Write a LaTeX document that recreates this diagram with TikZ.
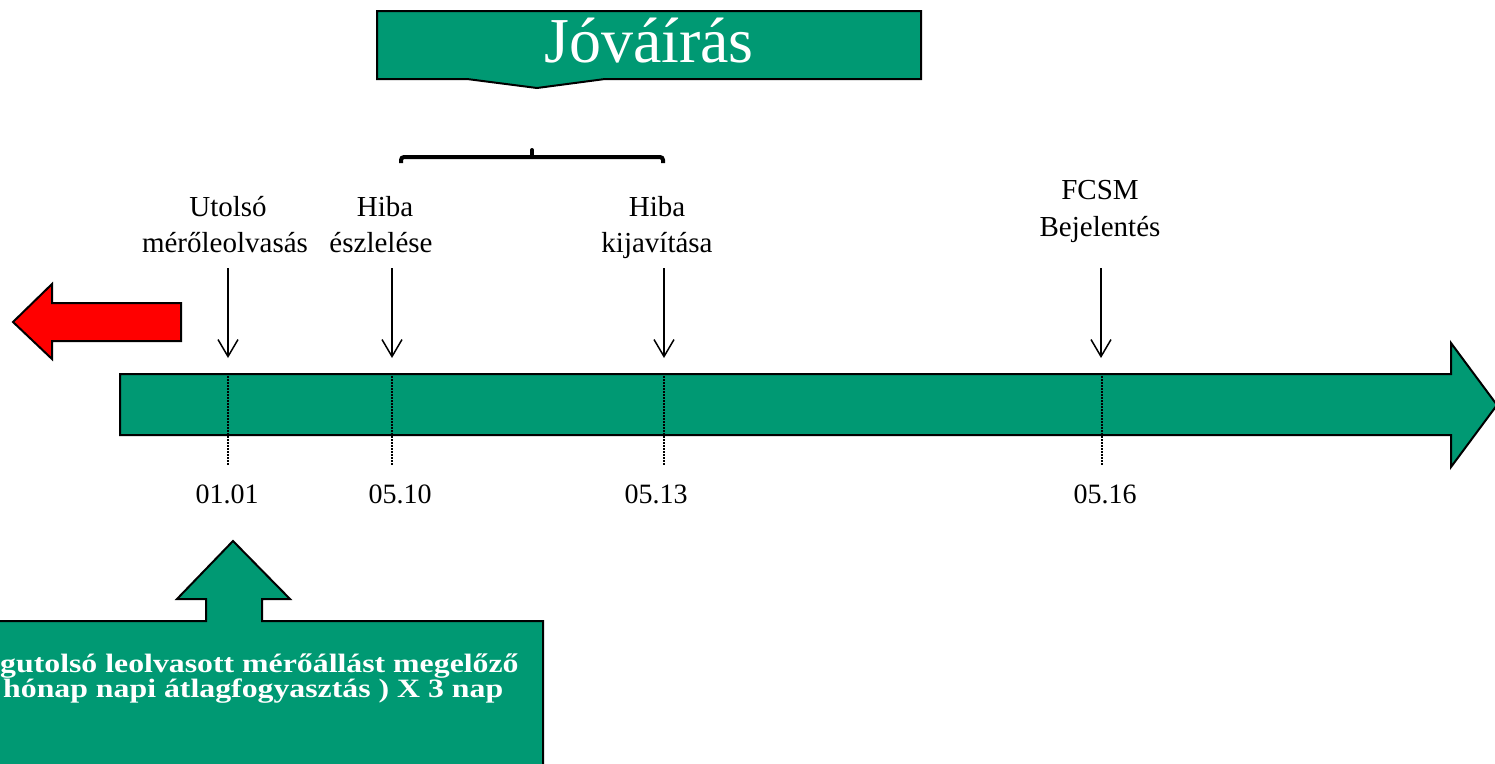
\documentclass[tikz,border=0pt]{standalone}
\usepackage{fontspec}
\setmainfont{Liberation Serif}
\usetikzlibrary{arrows.meta}
\definecolor{grn}{RGB}{0,153,115}
\begin{document}
\begin{tikzpicture}[x=1pt,y=-1pt,
  shp/.style={fill=grn,draw=black,line width=2pt,line join=miter},
  lbl/.style={font=\fontsize{29}{34}\selectfont,inner sep=0pt,anchor=base},
  datelbl/.style={font=\fontsize{28}{32}\selectfont,inner sep=0pt,anchor=base},
  boxtxt/.style={font=\fontsize{26.5}{27}\selectfont\bfseries,text=white,inner sep=0pt,anchor=base west},
  pointer/.style={line width=1.5pt,-{Straight Barb[length=17pt,width=20pt,line width=1.5pt]}},
  tick/.style={line width=1.5pt,dash pattern=on 1.5pt off 1.5pt}
]
\useasboundingbox (0,0) rectangle (1495,763);

% title box
\path[shp] (377,11) -- (921,11) -- (921,79) -- (605,79) -- (537,88) -- (467,79) -- (377,79) -- cycle;
\node[font=\fontsize{64}{70}\selectfont,text=white,inner sep=0pt,anchor=base] (title) at (649,62) {Jóváírás};

% brace
\draw[line width=4pt,rounded corners=3pt] (401,163) -- (401,157) -- (663,157) -- (663,163);
\draw[line width=4pt,line cap=round] (532,157) -- (532,150);

% main timeline arrow
\path[shp] (120,374) -- (1451,374) -- (1451,343) -- (1497,405) -- (1451,467) -- (1451,435) -- (120,435) -- cycle;

% red arrow
\path[shp,fill=red] (181,303) -- (52,303) -- (52,284) -- (13,322) -- (52,359) -- (52,341) -- (181,341) -- cycle;

% bottom box with up arrow
\path[shp] (-5,621) -- (206,621) -- (206,599) -- (177,599) -- (233,541) -- (290,599) -- (262,599) -- (262,621) -- (543,621) -- (543,770) -- (-5,770) -- cycle;
\node[boxtxt] (b1) at (0,672) {\scalebox{1.2}[1]{gutolsó leolvasott mérőállást megelőző}};
\node[boxtxt] (b2) at (3,697) {\scalebox{1.2}[1]{hónap napi átlagfogyasztás ) X 3 nap}};

% labels
\node[lbl] (l1a) at (228,216) {Utolsó};
\node[lbl] (l1b) at (225,252) {mérőleolvasás};
\node[lbl] (l2a) at (385,216) {Hiba};
\node[lbl] (l2b) at (381,252) {észlelése};
\node[lbl] (l3a) at (657,216) {Hiba};
\node[lbl] (l3b) at (657,252) {kijavítása};
\node[lbl] (l4a) at (1100,199) {FCSM};
\node[lbl] (l4b) at (1100,236) {Bejelentés};

% pointer arrows
\coordinate (s1) at (228,268); \coordinate (e1) at (228,358);
\coordinate (s2) at (392,268); \coordinate (e2) at (392,358);
\coordinate (s3) at (664,268); \coordinate (e3) at (664,358);
\coordinate (s4) at (1101,268); \coordinate (e4) at (1101,358);
\draw[pointer] (s1) -- (e1);
\draw[pointer] (s2) -- (e2);
\draw[pointer] (s3) -- (e3);
\draw[pointer] (s4) -- (e4);

% dotted ticks
\coordinate (t1a) at (228,376); \coordinate (t1b) at (228,466);
\coordinate (t2a) at (392,376); \coordinate (t2b) at (392,466);
\coordinate (t3a) at (664,376); \coordinate (t3b) at (664,466);
\coordinate (t4a) at (1102,376); \coordinate (t4b) at (1102,466);
\draw[tick] (t1a) -- (t1b);
\draw[tick] (t2a) -- (t2b);
\draw[tick] (t3a) -- (t3b);
\draw[tick] (t4a) -- (t4b);

% dates
\node[datelbl] (d1) at (227,503) {01.01};
\node[datelbl] (d2) at (400,503) {05.10};
\node[datelbl] (d3) at (656,503) {05.13};
\node[datelbl] (d4) at (1105,503) {05.16};
\end{tikzpicture}
\end{document}
